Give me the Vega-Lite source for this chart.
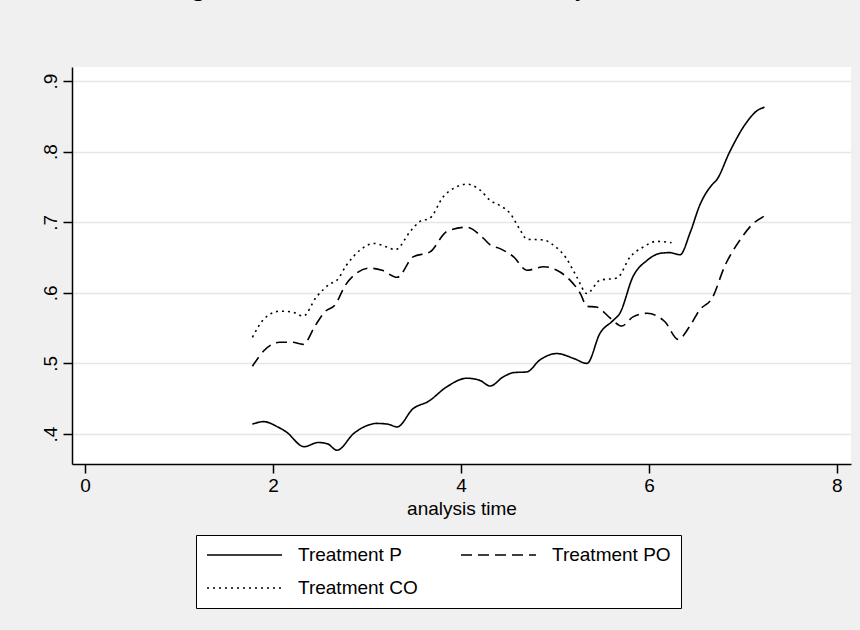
{
  "$schema": "https://vega.github.io/schema/vega-lite/v6.json",
  "width": 779,
  "height": 397,
  "autosize": {"type": "none"},
  "padding": {"left": 72, "top": 67, "right": 9, "bottom": 166},
  "background": "#f0f0f0",
  "title": {
    "text": "Figure 1: Smoothed hazard estimates by treatment",
    "font": "Liberation Serif",
    "fontSize": 26,
    "fontWeight": "normal",
    "color": "#000000",
    "anchor": "middle",
    "frame": "group",
    "baseline": "alphabetic",
    "offset": 45,
    "dx": -30
  },
  "config": {
    "font": "Liberation Sans",
    "view": {"fill": "#ffffff", "stroke": null}
  },
  "data": {
    "values": [
      {"t": 1.78, "h": 0.414, "g": "Treatment P"},
      {"t": 1.90, "h": 0.4175, "g": "Treatment P"},
      {"t": 2.05, "h": 0.410, "g": "Treatment P"},
      {"t": 2.14, "h": 0.403, "g": "Treatment P"},
      {"t": 2.33, "h": 0.382, "g": "Treatment P"},
      {"t": 2.48, "h": 0.388, "g": "Treatment P"},
      {"t": 2.58, "h": 0.386, "g": "Treatment P"},
      {"t": 2.68, "h": 0.377, "g": "Treatment P"},
      {"t": 2.86, "h": 0.401, "g": "Treatment P"},
      {"t": 3.00, "h": 0.412, "g": "Treatment P"},
      {"t": 3.10, "h": 0.415, "g": "Treatment P"},
      {"t": 3.22, "h": 0.414, "g": "Treatment P"},
      {"t": 3.32, "h": 0.410, "g": "Treatment P"},
      {"t": 3.49, "h": 0.436, "g": "Treatment P"},
      {"t": 3.65, "h": 0.446, "g": "Treatment P"},
      {"t": 3.85, "h": 0.467, "g": "Treatment P"},
      {"t": 4.06, "h": 0.479, "g": "Treatment P"},
      {"t": 4.20, "h": 0.476, "g": "Treatment P"},
      {"t": 4.31, "h": 0.468, "g": "Treatment P"},
      {"t": 4.45, "h": 0.481, "g": "Treatment P"},
      {"t": 4.56, "h": 0.487, "g": "Treatment P"},
      {"t": 4.70, "h": 0.488, "g": "Treatment P"},
      {"t": 4.84, "h": 0.505, "g": "Treatment P"},
      {"t": 5.02, "h": 0.514, "g": "Treatment P"},
      {"t": 5.20, "h": 0.507, "g": "Treatment P"},
      {"t": 5.34, "h": 0.500, "g": "Treatment P"},
      {"t": 5.48, "h": 0.543, "g": "Treatment P"},
      {"t": 5.62, "h": 0.561, "g": "Treatment P"},
      {"t": 5.69, "h": 0.571, "g": "Treatment P"},
      {"t": 5.83, "h": 0.623, "g": "Treatment P"},
      {"t": 5.98, "h": 0.646, "g": "Treatment P"},
      {"t": 6.12, "h": 0.656, "g": "Treatment P"},
      {"t": 6.22, "h": 0.657, "g": "Treatment P"},
      {"t": 6.33, "h": 0.654, "g": "Treatment P"},
      {"t": 6.44, "h": 0.686, "g": "Treatment P"},
      {"t": 6.54, "h": 0.724, "g": "Treatment P"},
      {"t": 6.67, "h": 0.753, "g": "Treatment P"},
      {"t": 6.72, "h": 0.760, "g": "Treatment P"},
      {"t": 6.86, "h": 0.800, "g": "Treatment P"},
      {"t": 7.02, "h": 0.838, "g": "Treatment P"},
      {"t": 7.16, "h": 0.859, "g": "Treatment P"},
      {"t": 7.23, "h": 0.863, "g": "Treatment P"},
      {"t": 1.78, "h": 0.496, "g": "Treatment PO"},
      {"t": 1.91, "h": 0.519, "g": "Treatment PO"},
      {"t": 2.07, "h": 0.530, "g": "Treatment PO"},
      {"t": 2.20, "h": 0.530, "g": "Treatment PO"},
      {"t": 2.32, "h": 0.527, "g": "Treatment PO"},
      {"t": 2.45, "h": 0.554, "g": "Treatment PO"},
      {"t": 2.55, "h": 0.573, "g": "Treatment PO"},
      {"t": 2.66, "h": 0.583, "g": "Treatment PO"},
      {"t": 2.77, "h": 0.611, "g": "Treatment PO"},
      {"t": 2.90, "h": 0.629, "g": "Treatment PO"},
      {"t": 3.03, "h": 0.635, "g": "Treatment PO"},
      {"t": 3.16, "h": 0.632, "g": "Treatment PO"},
      {"t": 3.32, "h": 0.622, "g": "Treatment PO"},
      {"t": 3.49, "h": 0.651, "g": "Treatment PO"},
      {"t": 3.67, "h": 0.658, "g": "Treatment PO"},
      {"t": 3.85, "h": 0.687, "g": "Treatment PO"},
      {"t": 4.06, "h": 0.693, "g": "Treatment PO"},
      {"t": 4.24, "h": 0.677, "g": "Treatment PO"},
      {"t": 4.31, "h": 0.668, "g": "Treatment PO"},
      {"t": 4.41, "h": 0.663, "g": "Treatment PO"},
      {"t": 4.56, "h": 0.651, "g": "Treatment PO"},
      {"t": 4.70, "h": 0.632, "g": "Treatment PO"},
      {"t": 4.88, "h": 0.637, "g": "Treatment PO"},
      {"t": 5.02, "h": 0.632, "g": "Treatment PO"},
      {"t": 5.16, "h": 0.618, "g": "Treatment PO"},
      {"t": 5.27, "h": 0.599, "g": "Treatment PO"},
      {"t": 5.34, "h": 0.581, "g": "Treatment PO"},
      {"t": 5.44, "h": 0.580, "g": "Treatment PO"},
      {"t": 5.59, "h": 0.564, "g": "Treatment PO"},
      {"t": 5.71, "h": 0.553, "g": "Treatment PO"},
      {"t": 5.83, "h": 0.566, "g": "Treatment PO"},
      {"t": 5.98, "h": 0.571, "g": "Treatment PO"},
      {"t": 6.17, "h": 0.559, "g": "Treatment PO"},
      {"t": 6.31, "h": 0.534, "g": "Treatment PO"},
      {"t": 6.44, "h": 0.554, "g": "Treatment PO"},
      {"t": 6.54, "h": 0.576, "g": "Treatment PO"},
      {"t": 6.67, "h": 0.592, "g": "Treatment PO"},
      {"t": 6.81, "h": 0.639, "g": "Treatment PO"},
      {"t": 6.97, "h": 0.675, "g": "Treatment PO"},
      {"t": 7.10, "h": 0.697, "g": "Treatment PO"},
      {"t": 7.23, "h": 0.709, "g": "Treatment PO"},
      {"t": 1.78, "h": 0.537, "g": "Treatment CO"},
      {"t": 1.91, "h": 0.564, "g": "Treatment CO"},
      {"t": 2.07, "h": 0.574, "g": "Treatment CO"},
      {"t": 2.20, "h": 0.573, "g": "Treatment CO"},
      {"t": 2.32, "h": 0.567, "g": "Treatment CO"},
      {"t": 2.46, "h": 0.594, "g": "Treatment CO"},
      {"t": 2.61, "h": 0.613, "g": "Treatment CO"},
      {"t": 2.68, "h": 0.618, "g": "Treatment CO"},
      {"t": 2.78, "h": 0.639, "g": "Treatment CO"},
      {"t": 2.93, "h": 0.661, "g": "Treatment CO"},
      {"t": 3.07, "h": 0.670, "g": "Treatment CO"},
      {"t": 3.21, "h": 0.665, "g": "Treatment CO"},
      {"t": 3.30, "h": 0.661, "g": "Treatment CO"},
      {"t": 3.46, "h": 0.687, "g": "Treatment CO"},
      {"t": 3.56, "h": 0.701, "g": "Treatment CO"},
      {"t": 3.67, "h": 0.706, "g": "Treatment CO"},
      {"t": 3.81, "h": 0.736, "g": "Treatment CO"},
      {"t": 3.95, "h": 0.750, "g": "Treatment CO"},
      {"t": 4.06, "h": 0.754, "g": "Treatment CO"},
      {"t": 4.20, "h": 0.746, "g": "Treatment CO"},
      {"t": 4.31, "h": 0.731, "g": "Treatment CO"},
      {"t": 4.41, "h": 0.724, "g": "Treatment CO"},
      {"t": 4.52, "h": 0.713, "g": "Treatment CO"},
      {"t": 4.63, "h": 0.689, "g": "Treatment CO"},
      {"t": 4.70, "h": 0.676, "g": "Treatment CO"},
      {"t": 4.88, "h": 0.675, "g": "Treatment CO"},
      {"t": 4.98, "h": 0.668, "g": "Treatment CO"},
      {"t": 5.12, "h": 0.649, "g": "Treatment CO"},
      {"t": 5.23, "h": 0.623, "g": "Treatment CO"},
      {"t": 5.34, "h": 0.599, "g": "Treatment CO"},
      {"t": 5.48, "h": 0.618, "g": "Treatment CO"},
      {"t": 5.66, "h": 0.621, "g": "Treatment CO"},
      {"t": 5.80, "h": 0.651, "g": "Treatment CO"},
      {"t": 5.94, "h": 0.665, "g": "Treatment CO"},
      {"t": 6.08, "h": 0.673, "g": "Treatment CO"},
      {"t": 6.24, "h": 0.671, "g": "Treatment CO"}
    ]
  },
  "mark": {"type": "line", "color": "#000000", "strokeWidth": 1.6, "interpolate": "monotone"},
  "encoding": {
    "x": {
      "field": "t",
      "type": "quantitative",
      "scale": {"domain": [-0.14, 8.15], "nice": false, "zero": false},
      "axis": {
        "title": "analysis time",
        "values": [0, 2, 4, 6, 8],
        "grid": false,
        "domainColor": "#000000",
        "domainWidth": 1.5,
        "tickColor": "#000000",
        "tickWidth": 1.5,
        "tickSize": 9,
        "labelFontSize": 19,
        "labelColor": "#000000",
        "labelPadding": 3,
        "titleFontSize": 19,
        "titleFontWeight": "normal",
        "titleColor": "#000000",
        "titlePadding": 4
      }
    },
    "y": {
      "field": "h",
      "type": "quantitative",
      "scale": {"domain": [0.3575, 0.92], "nice": false, "zero": false},
      "axis": {
        "title": null,
        "values": [0.4, 0.5, 0.6, 0.7, 0.8, 0.9],
        "labelExpr": "replace(format(datum.value, '.1f'), '0.', '.')",
        "labelAngle": -90,
        "labelAlign": "center",
        "labelBaseline": "bottom",
        "grid": true,
        "gridColor": "#e6e6e6",
        "gridWidth": 1.5,
        "domainColor": "#000000",
        "domainWidth": 1.5,
        "tickColor": "#000000",
        "tickWidth": 1.5,
        "tickSize": 9,
        "labelFontSize": 19,
        "labelColor": "#000000",
        "labelPadding": 3
      }
    },
    "strokeDash": {
      "field": "g",
      "type": "nominal",
      "scale": {
        "domain": ["Treatment P", "Treatment PO", "Treatment CO"],
        "range": [[1, 0], [11, 6], [2, 4]]
      },
      "legend": {
        "title": null,
        "orient": "none",
        "legendX": 124,
        "legendY": 468,
        "direction": "horizontal",
        "columns": 2,
        "symbolType": "stroke",
        "symbolSize": 5625,
        "clipHeight": 20,
        "symbolStrokeWidth": 1.6,
        "symbolStrokeColor": "#000000",
        "labelFontSize": 19,
        "labelColor": "#000000",
        "labelOffset": 15,
        "labelLimit": 300,
        "columnPadding": 42,
        "rowPadding": 13,
        "padding": 10,
        "fillColor": "#ffffff",
        "strokeColor": "#000000"
      }
    }
  }
}
